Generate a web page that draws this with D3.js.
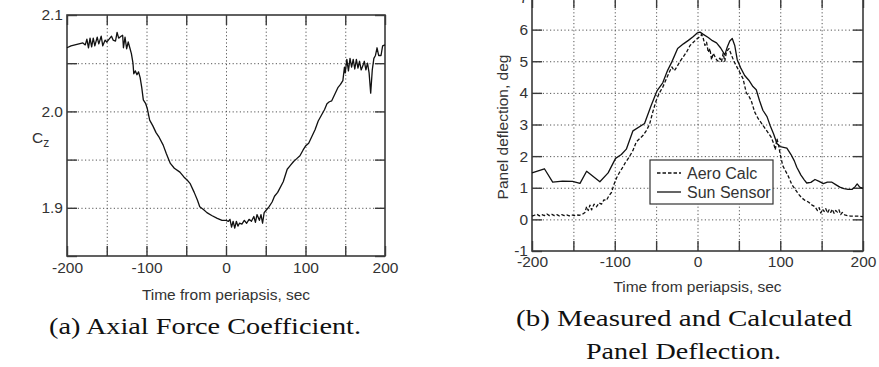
<!DOCTYPE html>
<html>
<head>
<meta charset="utf-8">
<script src="https://cdn.jsdelivr.net/npm/d3@7"></script>
<style>
  body { margin: 0; background: #fff; }
  svg { display: block; }
  .tick text { font-family: "Liberation Sans", Arial, sans-serif; font-size: 15.5px; fill: #333; }
  .grid line { stroke: #555; stroke-width: 1; stroke-dasharray: 1.2,2.4; }
  .grid .domain { display: none; }
  .marks line { stroke: #3a3a3a; stroke-width: 1.4; }
  .marks .domain { display: none; }
  .frame { fill: none; stroke: #3a3a3a; stroke-width: 1.6; }
  .lbl { font-family: "Liberation Sans", Arial, sans-serif; font-size: 15.5px; fill: #333; }
  .cap { font-family: "Liberation Serif", "Times New Roman", serif; font-size: 24px; fill: #111; }
</style>
</head>
<body>
<svg id="chart" width="879" height="367"></svg>
<script>
// (a) axial force coefficient
let timeA = [-200,-195,-190,-185,-180,-177,-175,-173,-171,-169,-167,-165,-162,-160,-157,-155,-152,-150,-147,-144,-142,-139,-137,-135,-132,-130,-129,-127,-125,-123,-121,-119,-117,-116,-114,-112,-110,-108,-106,-104,-101,-99,-96,-92,-88,-84,-79,-75,-70,-65,-58,-53,-48,-45,-40,-36,-33,-28,-24,-18,-11,-5,0,3,5,7,9,11,13,15,17,20,23,26,29,32,35,37,39,42,44,46,48,51,54,58,61,65,72,77,81,85,89,93,97,100,104,108,112,116,120,124,127,130,133,137,141,144,147,149,150,152,154,156,158,160,162,164,166,168,170,172,174,176,178,180,182,184,186,188,190,192,195,197,200];
let czA = [2.066,2.068,2.069,2.070,2.071,2.069,2.075,2.066,2.076,2.067,2.076,2.068,2.077,2.070,2.078,2.068,2.074,2.072,2.075,2.078,2.074,2.073,2.082,2.076,2.078,2.079,2.066,2.077,2.065,2.072,2.066,2.060,2.050,2.039,2.042,2.038,2.041,2.035,2.025,2.012,2.008,2.003,1.991,1.985,1.978,1.973,1.965,1.956,1.946,1.941,1.937,1.932,1.928,1.925,1.916,1.908,1.901,1.898,1.895,1.892,1.889,1.887,1.887,1.886,1.888,1.880,1.886,1.879,1.886,1.881,1.884,1.883,1.887,1.884,1.888,1.886,1.891,1.885,1.893,1.887,1.893,1.884,1.895,1.898,1.901,1.906,1.912,1.916,1.927,1.940,1.944,1.948,1.951,1.954,1.960,1.964,1.967,1.974,1.981,1.990,1.996,2.002,2.008,2.010,2.011,2.018,2.025,2.028,2.032,2.046,2.040,2.054,2.042,2.055,2.046,2.054,2.044,2.054,2.045,2.052,2.043,2.047,2.052,2.043,2.050,2.040,2.019,2.043,2.055,2.058,2.066,2.058,2.058,2.068,2.069];

// (b) panel deflection, sun sensor
let timeSun = [-200,-185,-175,-163,-151,-142,-134,-118,-108,-99,-92,-86,-78,-64,-56,-49,-42,-36,-31,-24,-17,-11,-5,0,3,7,13,18,23,28,33,36,39,42,45,48,52,57,62,67,71,75,79,84,88,92,96,100,104,108,113,117,120,125,129,132,137,142,147,152,157,162,167,172,177,182,187,190,193,196,200];
let sunDefl = [1.47,1.60,1.18,1.21,1.20,1.14,1.52,1.19,1.47,1.93,2.05,2.22,2.80,3.03,3.60,4.06,4.32,4.72,4.98,5.40,5.55,5.66,5.78,5.90,5.92,5.85,5.75,5.65,5.58,5.42,5.20,5.45,5.64,5.72,5.50,5.05,4.80,4.55,4.40,4.20,4.10,3.75,3.45,3.25,2.95,2.70,2.40,2.30,2.28,2.25,2.05,1.85,1.65,1.40,1.25,1.15,1.17,1.26,1.20,1.13,1.18,1.18,1.10,1.02,0.97,0.95,0.95,1.02,1.12,1.02,0.98];

// (b) panel deflection, aero calc
let timeAero = [-200,-197,-194,-191,-188,-185,-182,-179,-176,-173,-170,-167,-164,-161,-158,-155,-152,-149,-146,-143,-139,-136,-134,-132,-130,-128,-125,-122,-119,-116,-113,-110,-107,-104,-101,-98,-95,-91,-87,-83,-78,-74,-70,-66,-62,-58,-54,-50,-46,-42,-38,-34,-31,-28,-25,-21,-17,-13,-9,-5,-1,3,5,7,9,11,13,15,17,19,21,23,25,27,29,31,33,35,38,41,44,48,51,55,59,62,65,69,73,77,81,85,89,92,94,96,98,100,103,106,110,114,118,122,126,130,134,138,142,145,147,149,151,153,155,157,159,161,163,165,167,169,171,173,175,178,181,185,190,195,200];
let aeroDefl = [0.10,0.13,0.16,0.11,0.15,0.12,0.17,0.12,0.16,0.12,0.15,0.11,0.15,0.12,0.14,0.11,0.14,0.12,0.14,0.13,0.16,0.22,0.40,0.28,0.45,0.30,0.48,0.40,0.52,0.48,0.62,0.60,0.75,0.85,1.10,1.30,1.45,1.62,1.80,1.95,2.18,2.45,2.55,2.65,2.80,3.00,3.40,3.75,4.00,4.18,4.42,4.66,4.82,4.70,4.82,5.00,5.15,5.30,5.50,5.60,5.70,5.78,5.85,5.72,5.50,5.60,5.28,5.40,5.05,5.25,5.15,5.05,5.00,5.10,4.98,5.25,5.00,5.30,5.40,5.20,5.00,4.80,4.65,4.45,4.00,3.90,3.75,3.40,3.20,3.05,2.90,2.75,2.60,2.40,2.20,2.55,2.35,2.05,1.70,1.55,1.35,1.10,0.95,0.80,0.68,0.60,0.55,0.46,0.40,0.28,0.37,0.20,0.32,0.25,0.34,0.20,0.30,0.22,0.32,0.19,0.28,0.23,0.30,0.15,0.22,0.14,0.12,0.10,0.10,0.10,0.09];

let timeTicks = [-200,-150,-100,-50,0,50,100,150,200];
let timeLabels = [-200,-100,0,100,200];
let czTicks = [1.85,1.9,1.95,2.0,2.05,2.1];
let czLabels = [1.9,2.0,2.1];
let deflTicks = [-1,0,1,2,3,4,5,6,7];

let svg = d3.select("#chart");

function drawPanel(cfg){
    let x = d3.scaleLinear().domain([-200,200]).range([cfg.left, cfg.right]);
    let y = d3.scaleLinear().domain(cfg.yDomain).range([cfg.bottom, cfg.top]);
    let w = cfg.right - cfg.left, h = cfg.bottom - cfg.top;

    // dotted grid
    svg.append("g").attr("class","grid")
        .attr("transform","translate(0,"+cfg.bottom+")")
        .call(d3.axisBottom(x).tickValues(timeTicks.slice(1,-1)).tickSize(-h).tickFormat(""));
    svg.append("g").attr("class","grid")
        .attr("transform","translate("+cfg.left+",0)")
        .call(d3.axisLeft(y).tickValues(cfg.yTicks.slice(1,-1)).tickSize(-w).tickFormat(""));

    // inward tick marks on all four sides
    svg.append("g").attr("class","marks")
        .attr("transform","translate(0,"+cfg.bottom+")")
        .call(d3.axisBottom(x).tickValues(timeTicks).tickSizeInner(-10).tickSizeOuter(0)
            .tickPadding(cfg.xPad)
            .tickFormat(function(d){ return timeLabels.indexOf(d) >= 0 ? d : ""; }));
    svg.append("g").attr("class","marks")
        .attr("transform","translate(0,"+cfg.top+")")
        .call(d3.axisTop(x).tickValues(timeTicks).tickSizeInner(-10).tickSizeOuter(0).tickFormat(""));
    svg.append("g").attr("class","marks")
        .attr("transform","translate("+cfg.left+",0)")
        .call(d3.axisLeft(y).tickValues(cfg.yTicks).tickSizeInner(-10).tickSizeOuter(0)
            .tickPadding(4)
            .tickFormat(function(d){ return cfg.yLabels.indexOf(d) >= 0 ? cfg.fmt(d) : ""; }));
    svg.append("g").attr("class","marks")
        .attr("transform","translate("+cfg.right+",0)")
        .call(d3.axisRight(y).tickValues(cfg.yTicks).tickSizeInner(-10).tickSizeOuter(0).tickFormat(""));

    svg.append("rect").attr("class","frame")
        .attr("x",cfg.left).attr("y",cfg.top).attr("width",w).attr("height",h);

    let line = d3.line()
        .x(function(d){ return x(d[0]); })
        .y(function(d){ return y(d[1]); });

    cfg.series.forEach(function(s){
        svg.append("path")
            .datum(d3.zip(s.t, s.v))
            .attr("fill","none")
            .attr("stroke","#111")
            .attr("stroke-width",1.3)
            .attr("stroke-linejoin","round")
            .attr("stroke-dasharray", s.dash || null)
            .attr("d", line);
    });

    svg.append("text").attr("class","lbl")
        .attr("x",(cfg.left+cfg.right)/2).attr("y",cfg.titleY)
        .attr("text-anchor","middle")
        .text("Time from periapsis, sec");
    return {x:x, y:y};
}

drawPanel({
    left:67, right:385, top:15, bottom:256,
    yDomain:[1.85,2.1], yTicks:czTicks, yLabels:czLabels,
    fmt:d3.format(".1f"), xPad:6, titleY:300,
    series:[{t:timeA, v:czA}]
});

drawPanel({
    left:532, right:863, top:-2, bottom:251,
    yDomain:[-1,7], yTicks:deflTicks, yLabels:deflTicks,
    fmt:function(d){ return d; }, xPad:5, titleY:292,
    series:[{t:timeAero, v:aeroDefl, dash:"3.5,2"}, {t:timeSun, v:sunDefl}]
});

// y axis titles
let cz = svg.append("text").attr("class","lbl").attr("x",32).attr("y",143);
cz.append("tspan").text("C");
cz.append("tspan").attr("dy",4).attr("font-size","12px").text("z");

svg.append("text").attr("class","lbl")
    .attr("transform","translate(502,127) rotate(-90)")
    .attr("text-anchor","middle").attr("dominant-baseline","central")
    .text("Panel deflection, deg");

// legend
let leg = svg.append("g");
leg.append("rect").attr("x",650).attr("y",160).attr("width",123).attr("height",44)
    .attr("fill","#fff").attr("stroke","#333").attr("stroke-width",1.2);
[["Aero Calc","3.5,2",173],["Sun Sensor",null,192]].forEach(function(e){
    leg.append("line").attr("x1",657).attr("x2",681).attr("y1",e[2]).attr("y2",e[2])
        .attr("stroke","#111").attr("stroke-width",1.3).attr("stroke-dasharray",e[1]);
    leg.append("text").attr("class","lbl").style("font-size","16px")
        .attr("x",687).attr("y",e[2]).attr("dominant-baseline","central").text(e[0]);
});

// captions
svg.append("text").attr("class","cap").attr("x",49).attr("y",334)
    .attr("textLength",312).attr("lengthAdjust","spacingAndGlyphs")
    .text("(a) Axial Force Coefficient.");
svg.append("text").attr("class","cap").attr("x",516).attr("y",326)
    .attr("textLength",336).attr("lengthAdjust","spacingAndGlyphs")
    .text("(b) Measured and Calculated");
svg.append("text").attr("class","cap").attr("x",586).attr("y",359)
    .attr("textLength",195).attr("lengthAdjust","spacingAndGlyphs")
    .text("Panel Deflection.");
</script>
</body>
</html>
